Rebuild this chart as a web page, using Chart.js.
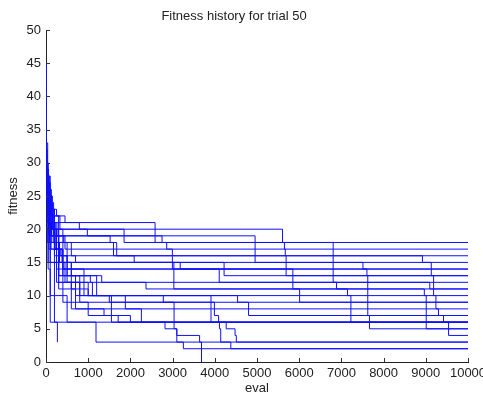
<!DOCTYPE html>
<html>
<head>
<meta charset="utf-8">
<title>Fitness history for trial 50</title>
<script src="https://cdn.jsdelivr.net/npm/chart.js@4.4.1/dist/chart.umd.min.js"></script>
<style>
    html, body { margin: 0; padding: 0; background: #fff; overflow: hidden; }
    #wrap { width: 483px; height: 395px; position: relative; }
</style>
</head>
<body>
<div id="wrap"><canvas id="fitChart"></canvas></div>
<script>
// each run: [eval, best fitness] at every improvement
const run01 = [[0,32],[30,28],[70,25],[130,23],[250,22],[450,21],[2585,18],[6805,12],[6885,11],[7145,10],[7225,6],[10000,6]];
const run02 = [[0,31],[20,29],[60,26],[110,24],[180,22],[300,20],[5605,18],[10000,18]];
const run03 = [[0,29],[40,27],[90,24],[160,21],[230,19],[4955,15],[7510,14],[7605,13],[7625,7],[7665,5],[10000,5]];
const run04 = [[0,30],[25,27],[80,25],[140,22],[330,20],[980,19],[2750,18],[5650,17],[10000,17]];
const run05 = [[0,28],[50,25],[120,23],[200,21],[790,20],[1850,18],[2860,17],[5670,16],[10000,16]];
const run06 = [[0,27],[35,24],[100,22],[200,19],[420,18],[1600,16],[8920,15],[10000,15]];
const run07 = [[0,33],[15,30],[50,26],[120,21],[260,19],[1520,18],[1675,16],[5690,13],[9185,10],[9240,8],[9300,7],[9420,6],[9540,4],[10000,4]];
const run08 = [[0,26],[30,24],[80,21],[200,17],[350,16],[500,15],[9130,13],[10000,13]];
const run09 = [[0,30],[45,25],[100,22],[180,19],[450,17],[2995,14],[10000,14]];
const run10 = [[0,28],[60,23],[140,20],[300,16],[700,15],[4220,13],[10000,13]];
const run11 = [[0,25],[40,22],[150,20],[250,17],[400,14],[4105,12],[10000,12]];
const run12 = [[0,27],[30,24],[90,21],[170,18],[320,15],[600,13],[1050,12],[9095,11],[10000,11]];
const run13 = [[0,24],[40,21],[120,17],[300,15],[600,14],[5850,11],[8965,10],[9010,5],[10000,5]];
const run14 = [[0,31],[20,27],[50,25],[150,20],[250,18],[600,16],[2090,15],[3030,11],[6010,9],[10000,9]];
const run15 = [[0,23],[60,19],[200,15],[450,12],[1000,10],[10000,10]];
const run16 = [[0,26],[120,18],[500,13],[1200,10],[4540,9],[10000,9]];
const run17 = [[0,24],[90,18],[300,12],[600,11],[1000,10],[1880,8],[10000,8]];
const run18 = [[0,27],[100,20],[400,14],[900,10],[2780,9],[4800,7],[10000,7]];
const run19 = [[0,22],[70,17],[300,11],[700,8],[1375,7],[1710,6],[10000,6]];
const run20 = [[0,25],[100,19],[300,13],[800,10],[1550,6],[10000,6]];
const run21 = [[0,23],[80,18],[250,14],[600,8],[2260,6],[10000,6]];
const run22 = [[0,29],[60,23],[200,16],[500,12],[1100,10],[3910,6],[10000,6]];
const run23 = [[0,24],[100,15],[400,9],[1000,7],[2000,6],[2820,5],[3100,3],[3255,2],[10000,2]];
const run24 = [[0,28],[80,20],[300,13],[700,10],[1500,9],[3035,5],[3100,4],[3640,3],[3685,0]];
const run25 = [[0,26],[70,19],[250,12],[800,9],[3990,7],[4090,6],[4110,5],[4140,3],[4380,2],[10000,2]];
const run26 = [[0,21],[50,15],[200,10],[500,6],[4270,5],[4480,4],[4510,3],[10000,3]];
const run27 = [[0,25],[30,18],[100,10],[200,6],[270,3]];
const run28 = [[0,20],[50,14],[100,6],[1185,3],[10000,3]];
const run29 = [[0,45],[10,33],[40,28],[100,22],[200,17],[400,13],[1320,12],[2370,11],[10000,11]];
const run30 = [[0,27],[20,24],[60,21],[130,19],[230,17],[380,15],[3180,14],[10000,14]];

const runs = [run01, run02, run03, run04, run05, run06, run07, run08, run09, run10,
              run11, run12, run13, run14, run15, run16, run17, run18, run19, run20,
              run21, run22, run23, run24, run25, run26, run27, run28, run29, run30];

const evalMax = 10000;
const evalStep = 1000;
const fitMax = 50;
const fitStep = 5;

const FONT = 'Liberation Sans, Arial, Helvetica, sans-serif';
const TEXT = '#222';

// matlab style ticks pointing into the axes
const innerTicks = {
    id: 'innerTicks',
    afterDraw(chart) {
        const ctx = chart.ctx;
        const a = chart.chartArea;
        const xs = chart.scales.x;
        const ys = chart.scales.y;
        ctx.save();
        ctx.strokeStyle = '#333';
        ctx.lineWidth = 1;
        ctx.beginPath();
        xs.ticks.forEach(t => {
            const px = Math.round(xs.getPixelForValue(t.value)) + 0.5;
            ctx.moveTo(px, a.bottom);
            ctx.lineTo(px, a.bottom - 4);
        });
        ys.ticks.forEach(t => {
            const py = Math.round(ys.getPixelForValue(t.value)) + 0.5;
            ctx.moveTo(a.left, py);
            ctx.lineTo(a.left + 4, py);
        });
        ctx.stroke();
        ctx.restore();
    }
};

new Chart(document.getElementById('fitChart'), {
    type: 'line',
    data: {
        datasets: runs.map((r, i) => ({
            label: 'run ' + (i + 1),
            data: r.map(p => ({ x: p[0], y: p[1] })),
            stepped: true,
            borderColor: '#1010ff',
            borderWidth: 1,
            pointRadius: 0,
            fill: false
        }))
    },
    options: {
        responsive: true,
        maintainAspectRatio: false,
        animation: false,
        layout: { padding: { left: 0, right: 15, top: 0, bottom: 0 } },
        plugins: {
            legend: { display: false },
            tooltip: { enabled: false },
            title: {
                display: true,
                text: 'Fitness history for trial 50',
                color: TEXT,
                font: { family: FONT, size: 13, weight: 'normal' },
                padding: { top: 8.2, bottom: 6.2 }
            }
        },
        scales: {
            x: {
                type: 'linear',
                min: 0,
                max: evalMax,
                ticks: {
                    stepSize: evalStep,
                    padding: 4,
                    color: TEXT,
                    maxRotation: 0,
                    autoSkip: false,
                    font: { family: FONT, size: 13 },
                    callback: v => String(v)
                },
                grid: { display: false, drawTicks: false },
                border: { display: true, color: '#222' },
                title: {
                    display: true,
                    text: 'eval',
                    color: TEXT,
                    font: { family: FONT, size: 13, lineHeight: 1 },
                    padding: { top: 0, bottom: 0 }
                },
                afterFit(s) {
                    s.height = 33;
                    s.paddingLeft = 0;
                    s.paddingRight = 0;
                }
            },
            y: {
                min: 0,
                max: fitMax,
                ticks: {
                    stepSize: fitStep,
                    padding: 5,
                    color: TEXT,
                    font: { family: FONT, size: 13 },
                    callback: v => String(v)
                },
                grid: { display: false, drawTicks: false },
                border: { display: true, color: '#222' },
                title: {
                    display: true,
                    text: 'fitness',
                    color: TEXT,
                    font: { family: FONT, size: 13, lineHeight: 1 },
                    padding: { top: 6.5, bottom: 0 }
                },
                afterFit(s) {
                    s.width = 46;
                    s.paddingTop = 0;
                    s.paddingBottom = 0;
                }
            }
        }
    },
    plugins: [innerTicks]
});
</script>
</body>
</html>
